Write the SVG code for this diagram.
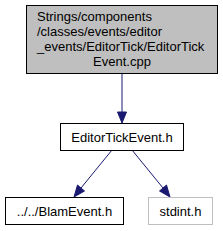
<svg xmlns="http://www.w3.org/2000/svg" width="223" height="231" viewBox="0 0 223 231">
<defs>
<style>
text{font-family:"Liberation Sans",Arial,sans-serif;font-size:13px;fill:#000}
.box{fill:#fff;stroke:#000;stroke-width:1}
.grey{fill:#bfbfbf}
.light{stroke:#bfbfbf}
.edge{stroke:#191970;stroke-width:1;fill:none}
.head{fill:#191970;stroke:#191970}
</style>
</defs>
<rect width="223" height="231" fill="#fff"/>
<g id="connectors">
<path class="edge" d="M122,74 L122,112"/>
<polygon class="head" points="117.5,112 126.5,112 122,123"/>
<path class="edge" d="M112,150 L81,188"/>
<polygon class="head" points="77.5,185 84.5,191 74,197"/>
<path class="edge" d="M132,150 L163,188"/>
<polygon class="head" points="159.5,191 166.5,185 170,197"/>
</g>
<g id="node_cpp">
<rect class="box grey" x="26.5" y="5.5" width="191" height="68"/>
<text x="37" y="20.5">Strings/components</text>
<text x="37" y="35.5">/classes/events/editor</text>
<text x="37" y="50.5">_events/EditorTick/EditorTick</text>
<text x="122" y="65.5" text-anchor="middle">Event.cpp</text>
</g>
<g id="node_editortick">
<rect class="box" x="60.5" y="123.5" width="123" height="27"/>
<text x="122" y="141.5" text-anchor="middle">EditorTickEvent.h</text>
</g>
<g id="node_blam">
<rect class="box" x="5.5" y="197.5" width="118" height="27"/>
<text x="64.5" y="215.5" text-anchor="middle">../../BlamEvent.h</text>
</g>
<g id="node_stdint">
<rect class="box light" x="148.5" y="197.5" width="64" height="27"/>
<text x="180.5" y="215.5" text-anchor="middle">stdint.h</text>
</g>
</svg>
